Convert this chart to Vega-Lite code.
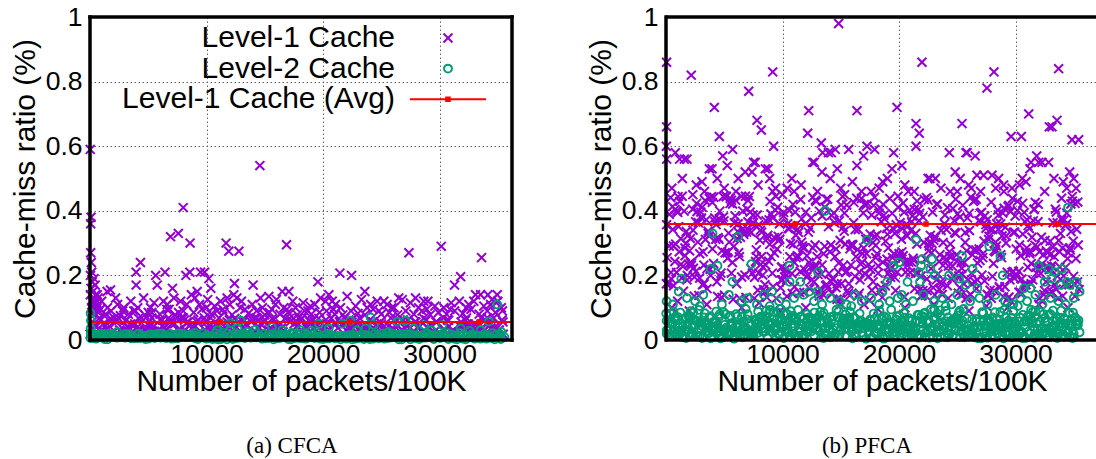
{
"$schema": "https://vega.github.io/schema/vega-lite/v6.json",
"background": "white",
"padding": {"left": 10, "top": 4, "right": 0, "bottom": 0},
"config": {
  "font": "Liberation Sans",
  "view": {"stroke": null},
  "axis": {"labelFont": "Liberation Sans", "labelFontSize": 26.5, "labelColor": "black", "titleFont": "Liberation Sans", "titleFontSize": 30, "titleFontWeight": "normal", "titleColor": "black", "ticks": false, "tickSize": 0, "domain": false, "grid": true, "gridColor": "#666666", "gridDash": [1.5, 2.5], "gridWidth": 1, "gridOpacity": 1, "labelFlush": false}
},
"datasets": {
"a1": [
{"x":10,"y":0.018},{"x":220,"y":0.037},{"x":370,"y":0.018},{"x":590,"y":0.043},{"x":810,"y":0.068},{"x":920,"y":0.025},{"x":1140,"y":0.05},{"x":1310,"y":0.043},{"x":1470,"y":0.031},{"x":1670,"y":0.043},
{"x":1880,"y":0.062},{"x":2070,"y":0.068},{"x":2230,"y":0.056},{"x":2430,"y":0.068},{"x":2550,"y":0.031},{"x":2720,"y":0.025},{"x":2910,"y":0.031},{"x":3140,"y":0.062},{"x":3280,"y":0.037},{"x":3480,"y":0.05},
{"x":3620,"y":0.025},{"x":3840,"y":0.05},{"x":4000,"y":0.037},{"x":4170,"y":0.031},{"x":4350,"y":0.031},{"x":4580,"y":0.062},{"x":4710,"y":0.031},{"x":4880,"y":0.025},{"x":5110,"y":0.056},{"x":5310,"y":0.068},
{"x":5450,"y":0.043},{"x":5580,"y":0.012},{"x":5780,"y":0.025},{"x":6020,"y":0.062},{"x":6200,"y":0.062},{"x":6340,"y":0.037},{"x":6490,"y":0.018},{"x":6750,"y":0.068},{"x":6910,"y":0.056},{"x":7030,"y":0.018},
{"x":7260,"y":0.05},{"x":7470,"y":0.068},{"x":7590,"y":0.031},{"x":7830,"y":0.068},{"x":8010,"y":0.068},{"x":8130,"y":0.031},{"x":8350,"y":0.056},{"x":8510,"y":0.043},{"x":8650,"y":0.018},{"x":8820,"y":0.012},
{"x":9050,"y":0.043},{"x":9260,"y":0.062},{"x":9380,"y":0.025},{"x":9540,"y":0.012},{"x":9810,"y":0.068},{"x":9970,"y":0.056},{"x":10120,"y":0.037},{"x":10350,"y":0.068},{"x":10480,"y":0.037},{"x":10660,"y":0.037},
{"x":10850,"y":0.043},{"x":11070,"y":0.068},{"x":11180,"y":0.025},{"x":11370,"y":0.031},{"x":11520,"y":0.012},{"x":11770,"y":0.056},{"x":11960,"y":0.062},{"x":12070,"y":0.018},{"x":12300,"y":0.05},{"x":12460,"y":0.037},
{"x":12600,"y":0.012},{"x":12840,"y":0.05},{"x":12980,"y":0.025},{"x":13220,"y":0.062},{"x":13380,"y":0.05},{"x":13520,"y":0.025},{"x":13680,"y":0.012},{"x":13940,"y":0.062},{"x":14130,"y":0.068},{"x":14310,"y":0.068},
{"x":14480,"y":0.062},{"x":14640,"y":0.05},{"x":14780,"y":0.025},{"x":15020,"y":0.062},{"x":15120,"y":0.012},{"x":15330,"y":0.031},{"x":15520,"y":0.037},{"x":15740,"y":0.062},{"x":15860,"y":0.025},{"x":16070,"y":0.043},
{"x":16230,"y":0.031},{"x":16420,"y":0.037},{"x":16580,"y":0.025},{"x":16750,"y":0.018},{"x":16930,"y":0.018},{"x":17170,"y":0.056},{"x":17280,"y":0.012},{"x":17520,"y":0.05},{"x":17710,"y":0.056},{"x":17910,"y":0.068},
{"x":18080,"y":0.062},{"x":18200,"y":0.025},{"x":18370,"y":0.018},{"x":18580,"y":0.037},{"x":18800,"y":0.062},{"x":18900,"y":0.012},{"x":19160,"y":0.062},{"x":19320,"y":0.05},{"x":19490,"y":0.043},{"x":19630,"y":0.018},
{"x":19830,"y":0.031},{"x":20000,"y":0.025},{"x":20240,"y":0.062},{"x":20360,"y":0.025},{"x":20550,"y":0.031},{"x":20700,"y":0.012},{"x":20940,"y":0.05},{"x":21120,"y":0.05},{"x":21280,"y":0.037},{"x":21490,"y":0.056},
{"x":21600,"y":0.012},{"x":21870,"y":0.068},{"x":21990,"y":0.031},{"x":22220,"y":0.062},{"x":22360,"y":0.037},{"x":22540,"y":0.037},{"x":22740,"y":0.05},{"x":22860,"y":0.012},{"x":23130,"y":0.068},{"x":23270,"y":0.043},
{"x":23450,"y":0.043},{"x":23580,"y":0.012},{"x":23810,"y":0.043},{"x":24020,"y":0.062},{"x":24140,"y":0.025},{"x":24320,"y":0.025},{"x":24510,"y":0.031},{"x":24670,"y":0.018},{"x":24910,"y":0.056},{"x":25040,"y":0.025},
{"x":25250,"y":0.043},{"x":25410,"y":0.031},{"x":25610,"y":0.043},{"x":25830,"y":0.068},{"x":25960,"y":0.037},{"x":26100,"y":0.012},{"x":26360,"y":0.062},{"x":26470,"y":0.018},{"x":26660,"y":0.025},{"x":26900,"y":0.062},
{"x":27040,"y":0.037},{"x":27260,"y":0.062},{"x":27370,"y":0.018},{"x":27550,"y":0.018},{"x":27730,"y":0.018},{"x":27970,"y":0.056},{"x":28120,"y":0.037},{"x":28310,"y":0.043},{"x":28440,"y":0.012},{"x":28640,"y":0.025},
{"x":28880,"y":0.062},{"x":29020,"y":0.037},{"x":29170,"y":0.018},{"x":29340,"y":0.012},{"x":29540,"y":0.025},{"x":29770,"y":0.056},{"x":29880,"y":0.012},{"x":30070,"y":0.018},{"x":30330,"y":0.068},{"x":30450,"y":0.031},
{"x":30680,"y":0.062},{"x":30830,"y":0.043},{"x":30980,"y":0.025},{"x":31150,"y":0.018},{"x":31330,"y":0.018},{"x":31500,"y":0.012},{"x":31730,"y":0.043},{"x":31910,"y":0.043},{"x":32090,"y":0.043},{"x":32310,"y":0.068},
{"x":32460,"y":0.05},{"x":32620,"y":0.037},{"x":32800,"y":0.037},{"x":33000,"y":0.05},{"x":33140,"y":0.025},{"x":33320,"y":0.025},{"x":33570,"y":0.068},{"x":33700,"y":0.037},{"x":33920,"y":0.062},{"x":34110,"y":0.068},
{"x":34250,"y":0.043},{"x":34420,"y":0.037},{"x":34650,"y":0.068},{"x":34770,"y":0.031},{"x":34920,"y":0.012},{"x":35130,"y":0.031},{"x":35360,"y":0.062},{"x":35470,"y":0.018},
{"x":170,"y":0.056},{"x":470,"y":0.021},{"x":900,"y":0.061},{"x":1200,"y":0.027},{"x":1620,"y":0.061},{"x":1910,"y":0.021},{"x":2340,"y":0.061},{"x":2640,"y":0.027},{"x":3060,"y":0.061},{"x":3380,"y":0.038},
{"x":3750,"y":0.044},{"x":4150,"y":0.067},{"x":4420,"y":0.015},{"x":4820,"y":0.038},{"x":5190,"y":0.044},{"x":5520,"y":0.027},{"x":5890,"y":0.032},{"x":6270,"y":0.044},{"x":6610,"y":0.032},{"x":7000,"y":0.05},
{"x":7300,"y":0.015},{"x":7680,"y":0.027},{"x":8100,"y":0.061},{"x":8450,"y":0.056},{"x":8780,"y":0.038},{"x":9170,"y":0.056},{"x":9470,"y":0.021},{"x":9850,"y":0.032},{"x":10230,"y":0.044},{"x":10560,"y":0.027},
{"x":10960,"y":0.05},{"x":11320,"y":0.05},{"x":11640,"y":0.027},{"x":12020,"y":0.038},{"x":12430,"y":0.067},{"x":12770,"y":0.056},{"x":13130,"y":0.056},{"x":13470,"y":0.044},{"x":13850,"y":0.056},{"x":14160,"y":0.027},
{"x":14540,"y":0.038},{"x":14930,"y":0.056},{"x":15220,"y":0.015},{"x":15670,"y":0.067},{"x":15970,"y":0.032},{"x":16360,"y":0.05},{"x":16750,"y":0.067},{"x":17110,"y":0.067},{"x":17470,"y":0.067},{"x":17790,"y":0.044},
{"x":18190,"y":0.067},{"x":18510,"y":0.044},{"x":18890,"y":0.056},{"x":19220,"y":0.038},{"x":19630,"y":0.067},{"x":19960,"y":0.05},{"x":20320,"y":0.05},{"x":20710,"y":0.067},{"x":21040,"y":0.05},{"x":21410,"y":0.056},
{"x":21760,"y":0.05},{"x":22080,"y":0.027},{"x":22490,"y":0.056},{"x":22850,"y":0.056},{"x":23160,"y":0.027},{"x":23540,"y":0.038},{"x":23860,"y":0.015},{"x":24290,"y":0.056},{"x":24640,"y":0.05},{"x":25000,"y":0.05},
{"x":25330,"y":0.032},{"x":25660,"y":0.015},{"x":26050,"y":0.032},{"x":26430,"y":0.044},{"x":26770,"y":0.032},{"x":27150,"y":0.044},{"x":27500,"y":0.038},{"x":27890,"y":0.056},{"x":28230,"y":0.044},{"x":28630,"y":0.067},
{"x":28940,"y":0.038},{"x":29310,"y":0.044},{"x":29690,"y":0.056},{"x":29990,"y":0.021},{"x":30370,"y":0.032},{"x":30780,"y":0.061},{"x":31080,"y":0.027},{"x":31430,"y":0.021},{"x":31850,"y":0.056},{"x":32220,"y":0.061},
{"x":32550,"y":0.044},{"x":32880,"y":0.027},{"x":33270,"y":0.044},{"x":33590,"y":0.021},{"x":34000,"y":0.05},{"x":34360,"y":0.05},{"x":34700,"y":0.038},{"x":35040,"y":0.027},{"x":35450,"y":0.056},
{"x":20,"y":0.59},{"x":60,"y":0.36},{"x":90,"y":0.38},{"x":60,"y":0.27},{"x":110,"y":0.24},{"x":40,"y":0.2},{"x":150,"y":0.21},{"x":200,"y":0.18},{"x":80,"y":0.16},{"x":250,"y":0.15},
{"x":320,"y":0.13},{"x":180,"y":0.12},{"x":400,"y":0.11},{"x":500,"y":0.14},{"x":600,"y":0.1},{"x":450,"y":0.17},{"x":350,"y":0.19},{"x":700,"y":0.13},{"x":750,"y":0.09},{"x":130,"y":0.1},
{"x":260,"y":0.09},{"x":30,"y":0.14},{"x":550,"y":0.12},
{"x":150,"y":0.085},{"x":300,"y":0.1},{"x":420,"y":0.12},{"x":560,"y":0.09},{"x":700,"y":0.11},{"x":900,"y":0.095},{"x":1350,"y":0.08},{"x":1800,"y":0.09},{"x":2600,"y":0.075},{"x":3300,"y":0.08},
{"x":3900,"y":0.09},{"x":4700,"y":0.078},{"x":5300,"y":0.085},{"x":6000,"y":0.08},{"x":6600,"y":0.095},{"x":7300,"y":0.078},{"x":8000,"y":0.09},{"x":8900,"y":0.085},{"x":9600,"y":0.095},{"x":10400,"y":0.08},
{"x":10900,"y":0.09},{"x":11500,"y":0.085},{"x":12200,"y":0.078},{"x":12900,"y":0.1},{"x":13600,"y":0.082},{"x":14300,"y":0.09},{"x":15000,"y":0.078},{"x":15600,"y":0.095},{"x":16300,"y":0.08},{"x":17000,"y":0.085},
{"x":17800,"y":0.078},{"x":18400,"y":0.09},{"x":19000,"y":0.08},{"x":19700,"y":0.085},{"x":20300,"y":0.09},{"x":21000,"y":0.08},{"x":21700,"y":0.078},{"x":22400,"y":0.09},{"x":23000,"y":0.082},{"x":23600,"y":0.078},
{"x":24300,"y":0.095},{"x":25000,"y":0.08},{"x":25700,"y":0.085},{"x":26400,"y":0.078},{"x":27100,"y":0.09},{"x":27800,"y":0.08},{"x":28500,"y":0.09},{"x":29200,"y":0.078},{"x":29900,"y":0.085},{"x":30600,"y":0.08},
{"x":31300,"y":0.09},{"x":32000,"y":0.082},{"x":32700,"y":0.095},{"x":33400,"y":0.08},{"x":34100,"y":0.09},{"x":34800,"y":0.085},{"x":35300,"y":0.1},
{"x":1000,"y":0.12},{"x":1500,"y":0.1},{"x":2200,"y":0.13},{"x":2800,"y":0.09},{"x":3500,"y":0.12},{"x":4100,"y":0.1},{"x":4600,"y":0.13},{"x":5000,"y":0.085},{"x":5500,"y":0.115},{"x":6300,"y":0.12},
{"x":6800,"y":0.095},{"x":7200,"y":0.13},{"x":7600,"y":0.085},{"x":8300,"y":0.11},{"x":8700,"y":0.14},{"x":9400,"y":0.11},{"x":10100,"y":0.125},{"x":10700,"y":0.105},{"x":11400,"y":0.095},{"x":12000,"y":0.11},
{"x":12600,"y":0.13},{"x":13300,"y":0.095},{"x":14800,"y":0.1},{"x":15400,"y":0.085},{"x":16000,"y":0.125},{"x":16900,"y":0.095},{"x":17400,"y":0.12},{"x":18700,"y":0.09},{"x":19300,"y":0.11},{"x":20900,"y":0.095},
{"x":21500,"y":0.1},{"x":22800,"y":0.105},{"x":23300,"y":0.125},{"x":24800,"y":0.09},{"x":25500,"y":0.11},{"x":26100,"y":0.1},{"x":27500,"y":0.115},{"x":28200,"y":0.1},{"x":28900,"y":0.095},{"x":29600,"y":0.105},
{"x":30900,"y":0.095},{"x":31700,"y":0.12},{"x":32300,"y":0.1},{"x":33800,"y":0.105},{"x":34500,"y":0.125},{"x":35400,"y":0.09},
{"x":14580,"y":0.54},{"x":8000,"y":0.41},{"x":6910,"y":0.32},{"x":7580,"y":0.33},{"x":8590,"y":0.3},{"x":11680,"y":0.3},{"x":11910,"y":0.275},{"x":12780,"y":0.275},{"x":16870,"y":0.295},{"x":27370,"y":0.27},
{"x":30150,"y":0.29},{"x":33610,"y":0.255},{"x":31810,"y":0.196},{"x":31290,"y":0.17},{"x":21450,"y":0.207},{"x":22450,"y":0.2},{"x":19560,"y":0.18},{"x":14000,"y":0.17},{"x":3960,"y":0.21},{"x":4330,"y":0.24},
{"x":3960,"y":0.17},{"x":5640,"y":0.2},{"x":6440,"y":0.21},{"x":5770,"y":0.17},{"x":7080,"y":0.16},{"x":8230,"y":0.2},{"x":8570,"y":0.21},{"x":9490,"y":0.21},{"x":9830,"y":0.21},{"x":10200,"y":0.19},
{"x":9200,"y":0.15},{"x":10370,"y":0.16},{"x":12400,"y":0.175},{"x":16500,"y":0.15},{"x":17070,"y":0.15},{"x":23590,"y":0.15},{"x":22070,"y":0.135},{"x":26500,"y":0.13},{"x":26800,"y":0.125},{"x":27940,"y":0.13},
{"x":28650,"y":0.12},{"x":29000,"y":0.12},{"x":30370,"y":0.1},{"x":32510,"y":0.11},{"x":32940,"y":0.12},{"x":33090,"y":0.14},{"x":33520,"y":0.14},{"x":34150,"y":0.14},{"x":34950,"y":0.14},{"x":34380,"y":0.11},
{"x":20500,"y":0.14},{"x":19790,"y":0.13},{"x":20220,"y":0.12},{"x":20790,"y":0.12},{"x":21070,"y":0.11},{"x":18920,"y":0.105},{"x":17640,"y":0.1},{"x":23790,"y":0.1},{"x":24080,"y":0.11},{"x":24650,"y":0.12},
{"x":25220,"y":0.12},{"x":14630,"y":0.13},{"x":15350,"y":0.135},{"x":15920,"y":0.11},{"x":16640,"y":0.1},{"x":13920,"y":0.11},{"x":11200,"y":0.12},{"x":11770,"y":0.13},{"x":12340,"y":0.14},{"x":620,"y":0.14},
{"x":1470,"y":0.15},{"x":1760,"y":0.155},{"x":2370,"y":0.11},{"x":7770,"y":0.12},{"x":6630,"y":0.11},{"x":5200,"y":0.1},{"x":3760,"y":0.09},{"x":9000,"y":0.13},{"x":10000,"y":0.1},{"x":2900,"y":0.1},
{"x":13000,"y":0.12},{"x":18300,"y":0.115},{"x":25900,"y":0.1},{"x":31000,"y":0.115},{"x":35000,"y":0.12}
],
"a2": [
{"x":40,"y":0.006},{"x":290,"y":0.006},{"x":520,"y":0.004},{"x":830,"y":0.01},{"x":1080,"y":0.01},{"x":1260,"y":0.003},{"x":1500,"y":0.002},{"x":1840,"y":0.011},{"x":2070,"y":0.009},{"x":2300,"y":0.007},
{"x":2560,"y":0.008},{"x":2810,"y":0.008},{"x":3050,"y":0.007},{"x":3340,"y":0.011},{"x":3530,"y":0.005},{"x":3780,"y":0.005},{"x":4040,"y":0.006},{"x":4290,"y":0.006},{"x":4560,"y":0.008},{"x":4760,"y":0.003},
{"x":5020,"y":0.004},{"x":5330,"y":0.01},{"x":5540,"y":0.006},{"x":5820,"y":0.009},{"x":6050,"y":0.007},{"x":6310,"y":0.008},{"x":6540,"y":0.006},{"x":6830,"y":0.01},{"x":7020,"y":0.004},{"x":7280,"y":0.005},
{"x":7530,"y":0.005},{"x":7820,"y":0.009},{"x":8080,"y":0.01},{"x":8310,"y":0.008},{"x":8570,"y":0.009},{"x":8830,"y":0.01},{"x":9030,"y":0.005},{"x":9260,"y":0.003},{"x":9560,"y":0.008},{"x":9800,"y":0.007},
{"x":10020,"y":0.004},{"x":10320,"y":0.009},{"x":10510,"y":0.003},{"x":10770,"y":0.004},{"x":11000,"y":0.002},{"x":11260,"y":0.003},{"x":11590,"y":0.011},{"x":11750,"y":0.002},{"x":12090,"y":0.011},{"x":12260,"y":0.003},
{"x":12540,"y":0.006},{"x":12800,"y":0.007},{"x":13060,"y":0.008},{"x":13290,"y":0.006},{"x":13580,"y":0.01},{"x":13800,"y":0.007},{"x":14060,"y":0.008},{"x":14310,"y":0.008},{"x":14590,"y":0.011},{"x":14770,"y":0.004},
{"x":15030,"y":0.005},{"x":15290,"y":0.006},{"x":15560,"y":0.008},{"x":15750,"y":0.002},{"x":16030,"y":0.005},{"x":16290,"y":0.006},{"x":16580,"y":0.01},{"x":16810,"y":0.008},{"x":17010,"y":0.003},{"x":17250,"y":0.002},
{"x":17540,"y":0.006},{"x":17800,"y":0.007},{"x":18040,"y":0.006},{"x":18280,"y":0.005},{"x":18520,"y":0.004},{"x":18810,"y":0.008},{"x":19060,"y":0.008},{"x":19290,"y":0.006},{"x":19580,"y":0.01},{"x":19770,"y":0.004},
{"x":20010,"y":0.003},{"x":20280,"y":0.005},{"x":20530,"y":0.005},{"x":20840,"y":0.011},{"x":21030,"y":0.005},{"x":21310,"y":0.008},{"x":21500,"y":0.002},{"x":21820,"y":0.009},{"x":22020,"y":0.004},{"x":22310,"y":0.008},
{"x":22500,"y":0.002},{"x":22770,"y":0.004},{"x":23040,"y":0.006},{"x":23340,"y":0.011},{"x":23510,"y":0.003},{"x":23790,"y":0.006},{"x":24010,"y":0.003},{"x":24270,"y":0.004},{"x":24570,"y":0.009},{"x":24780,"y":0.005},
{"x":25070,"y":0.009},{"x":25270,"y":0.004},{"x":25540,"y":0.006},{"x":25800,"y":0.007},{"x":26080,"y":0.01},{"x":26320,"y":0.009},{"x":26500,"y":0.002},{"x":26750,"y":0.002},{"x":27060,"y":0.008},{"x":27310,"y":0.008},
{"x":27500,"y":0.002},{"x":27810,"y":0.008},{"x":28030,"y":0.005},{"x":28260,"y":0.003},{"x":28550,"y":0.007},{"x":28800,"y":0.007},{"x":29080,"y":0.01},{"x":29330,"y":0.01},{"x":29510,"y":0.003},{"x":29820,"y":0.009},
{"x":30040,"y":0.006},{"x":30330,"y":0.01},{"x":30580,"y":0.01},{"x":30760,"y":0.003},{"x":31050,"y":0.007},{"x":31270,"y":0.004},{"x":31500,"y":0.002},{"x":31840,"y":0.011},{"x":32020,"y":0.004},{"x":32250,"y":0.002},
{"x":32590,"y":0.011},{"x":32810,"y":0.008},{"x":33020,"y":0.004},{"x":33330,"y":0.01},{"x":33520,"y":0.004},{"x":33840,"y":0.011},{"x":34020,"y":0.004},{"x":34300,"y":0.007},{"x":34540,"y":0.006},{"x":34750,"y":0.002},
{"x":35090,"y":0.011},{"x":35260,"y":0.003},{"x":35570,"y":0.009},
{"x":240,"y":0.019},{"x":540,"y":0.014},{"x":910,"y":0.016},{"x":1270,"y":0.017},{"x":1650,"y":0.02},{"x":1990,"y":0.019},{"x":2270,"y":0.012},{"x":2620,"y":0.012},{"x":3030,"y":0.018},{"x":3380,"y":0.018},
{"x":3670,"y":0.012},{"x":4080,"y":0.018},{"x":4400,"y":0.015},{"x":4730,"y":0.013},{"x":5120,"y":0.017},{"x":5470,"y":0.017},{"x":5850,"y":0.02},{"x":6200,"y":0.02},{"x":6480,"y":0.013},{"x":6890,"y":0.019},
{"x":7210,"y":0.016},{"x":7600,"y":0.02},{"x":7950,"y":0.02},{"x":8230,"y":0.013},{"x":8620,"y":0.017},{"x":8940,"y":0.014},{"x":9270,"y":0.012},{"x":9710,"y":0.021},{"x":9990,"y":0.014},{"x":10320,"y":0.012},
{"x":10760,"y":0.021},{"x":11080,"y":0.018},{"x":11390,"y":0.014},{"x":11800,"y":0.02},{"x":12090,"y":0.014},{"x":12510,"y":0.021},{"x":12790,"y":0.014},{"x":13190,"y":0.017},{"x":13510,"y":0.016},{"x":13820,"y":0.012},
{"x":14260,"y":0.021},{"x":14530,"y":0.013},{"x":14940,"y":0.019},{"x":15230,"y":0.013},{"x":15620,"y":0.017},{"x":15950,"y":0.015},{"x":16330,"y":0.018},{"x":16620,"y":0.016},{"x":16960,"y":0.015},{"x":17380,"y":0.018},
{"x":17740,"y":0.019},{"x":18100,"y":0.02},{"x":18460,"y":0.021},{"x":18740,"y":0.014},{"x":19140,"y":0.017},{"x":19510,"y":0.021},{"x":19770,"y":0.012},{"x":20150,"y":0.015},{"x":20530,"y":0.018},{"x":20820,"y":0.012},
{"x":21170,"y":0.012},{"x":21530,"y":0.013},{"x":21880,"y":0.013},{"x":22250,"y":0.015},{"x":22600,"y":0.015},{"x":22920,"y":0.012},{"x":23320,"y":0.017},{"x":23620,"y":0.015},{"x":23970,"y":0.012},{"x":24370,"y":0.017},
{"x":24710,"y":0.016},{"x":25100,"y":0.02},{"x":25450,"y":0.02},{"x":25740,"y":0.014},{"x":26070,"y":0.012},{"x":26460,"y":0.016},{"x":26830,"y":0.018},{"x":27180,"y":0.018},{"x":27520,"y":0.017},{"x":27820,"y":0.014},
{"x":28180,"y":0.013},{"x":28550,"y":0.015},{"x":28950,"y":0.02},{"x":29260,"y":0.016},{"x":29580,"y":0.013},{"x":29960,"y":0.016},{"x":30330,"y":0.018},{"x":30710,"y":0.021},{"x":31020,"y":0.017},{"x":31330,"y":0.013},
{"x":31760,"y":0.021},{"x":32060,"y":0.016},{"x":32360,"y":0.013},{"x":32770,"y":0.017},{"x":33070,"y":0.013},{"x":33420,"y":0.013},{"x":33830,"y":0.018},{"x":34120,"y":0.012},{"x":34560,"y":0.021},{"x":34860,"y":0.016},
{"x":35220,"y":0.017},
{"x":50,"y":0.083},{"x":50,"y":0.036},{"x":80,"y":0.06},{"x":60,"y":0.02},{"x":12060,"y":0.052},{"x":12940,"y":0.06},{"x":12650,"y":0.036},{"x":14160,"y":0.031},{"x":15620,"y":0.04},{"x":16490,"y":0.03},
{"x":18070,"y":0.03},{"x":19650,"y":0.05},{"x":20500,"y":0.036},{"x":21640,"y":0.05},{"x":22360,"y":0.06},{"x":24080,"y":0.07},{"x":23650,"y":0.036},{"x":24370,"y":0.046},{"x":26370,"y":0.057},{"x":27080,"y":0.06},
{"x":27800,"y":0.036},{"x":28660,"y":0.046},{"x":30240,"y":0.046},{"x":31810,"y":0.036},{"x":33520,"y":0.031},{"x":34240,"y":0.057},{"x":34950,"y":0.11},{"x":4190,"y":0.02},{"x":7620,"y":0.02},{"x":900,"y":0.02},
{"x":2330,"y":0.025},{"x":10900,"y":0.03},{"x":11500,"y":0.045},{"x":13500,"y":0.025},{"x":17300,"y":0.022},{"x":19000,"y":0.028},{"x":22900,"y":0.03},{"x":25600,"y":0.025},{"x":29300,"y":0.03},{"x":32600,"y":0.028},
{"x":6000,"y":0.018},{"x":9000,"y":0.022},{"x":3000,"y":0.017},{"x":26000,"y":0.02},{"x":35300,"y":0.025}
],
"b1": [
{"x":35,"y":0.174},{"x":95,"y":0.255},{"x":220,"y":0.177},{"x":280,"y":0.291},{"x":400,"y":0.441},{"x":455,"y":0.189},{"x":580,"y":0.342},{"x":640,"y":0.291},{"x":760,"y":0.243},{"x":830,"y":0.297},
{"x":925,"y":0.399},{"x":1035,"y":0.444},{"x":1080,"y":0.351},{"x":1190,"y":0.429},{"x":1285,"y":0.234},{"x":1360,"y":0.192},{"x":1455,"y":0.228},{"x":1555,"y":0.399},{"x":1635,"y":0.261},{"x":1740,"y":0.336},
{"x":1800,"y":0.186},{"x":1900,"y":0.324},{"x":2020,"y":0.276},{"x":2105,"y":0.24},{"x":2180,"y":0.231},{"x":2285,"y":0.405},{"x":2345,"y":0.222},{"x":2445,"y":0.195},{"x":2545,"y":0.366},{"x":2620,"y":0.423},
{"x":2730,"y":0.303},{"x":2820,"y":0.138},{"x":2890,"y":0.192},{"x":2990,"y":0.396},{"x":3105,"y":0.411},{"x":3185,"y":0.273},{"x":3275,"y":0.174},{"x":3355,"y":0.432},{"x":3455,"y":0.372},{"x":3520,"y":0.159},
{"x":3620,"y":0.33},{"x":3725,"y":0.438},{"x":3780,"y":0.219},{"x":3915,"y":0.444},{"x":3975,"y":0.426},{"x":4080,"y":0.237},{"x":4185,"y":0.378},{"x":4275,"y":0.312},{"x":4365,"y":0.18},{"x":4435,"y":0.135},
{"x":4545,"y":0.312},{"x":4615,"y":0.399},{"x":4715,"y":0.207},{"x":4790,"y":0.132},{"x":4905,"y":0.444},{"x":4980,"y":0.369},{"x":5070,"y":0.27},{"x":5175,"y":0.444},{"x":5250,"y":0.27},{"x":5345,"y":0.273},
{"x":5430,"y":0.303},{"x":5500,"y":0.423},{"x":5615,"y":0.207},{"x":5705,"y":0.24},{"x":5770,"y":0.126},{"x":5870,"y":0.363},{"x":5940,"y":0.384},{"x":6065,"y":0.174},{"x":6150,"y":0.336},{"x":6240,"y":0.27},
{"x":6315,"y":0.129},{"x":6390,"y":0.318},{"x":6495,"y":0.195},{"x":6595,"y":0.399},{"x":6675,"y":0.327},{"x":6775,"y":0.201},{"x":6860,"y":0.132},{"x":6965,"y":0.405},{"x":7045,"y":0.432},{"x":7155,"y":0.444},
{"x":7220,"y":0.396},{"x":7315,"y":0.333},{"x":7415,"y":0.207},{"x":7475,"y":0.387},{"x":7575,"y":0.129},{"x":7690,"y":0.243},{"x":7750,"y":0.258},{"x":7835,"y":0.387},{"x":7955,"y":0.207},{"x":8050,"y":0.309},
{"x":8125,"y":0.234},{"x":8200,"y":0.258},{"x":8305,"y":0.201},{"x":8375,"y":0.156},{"x":8490,"y":0.171},{"x":8580,"y":0.369},{"x":8660,"y":0.132},{"x":8740,"y":0.324},{"x":8855,"y":0.372},{"x":8930,"y":0.429},
{"x":9010,"y":0.39},{"x":9125,"y":0.207},{"x":9200,"y":0.165},{"x":9300,"y":0.27},{"x":9390,"y":0.402},{"x":9465,"y":0.129},{"x":9585,"y":0.411},{"x":9635,"y":0.321},{"x":9765,"y":0.312},{"x":9825,"y":0.162},
{"x":9910,"y":0.225},{"x":9990,"y":0.186},{"x":10080,"y":0.384},{"x":10185,"y":0.195},{"x":10260,"y":0.219},{"x":10375,"y":0.135},{"x":10485,"y":0.345},{"x":10575,"y":0.345},{"x":10630,"y":0.258},{"x":10715,"y":0.354},
{"x":10840,"y":0.144},{"x":10895,"y":0.42},{"x":11015,"y":0.24},{"x":11090,"y":0.396},{"x":11165,"y":0.255},{"x":11265,"y":0.261},{"x":11365,"y":0.333},{"x":11475,"y":0.147},{"x":11550,"y":0.435},{"x":11640,"y":0.303},
{"x":11710,"y":0.291},{"x":11835,"y":0.147},{"x":11880,"y":0.285},{"x":11990,"y":0.396},{"x":12075,"y":0.195},{"x":12175,"y":0.201},{"x":12275,"y":0.24},{"x":12340,"y":0.159},{"x":12465,"y":0.378},{"x":12510,"y":0.186},
{"x":12600,"y":0.285},{"x":12705,"y":0.228},{"x":12795,"y":0.294},{"x":12890,"y":0.429},{"x":12970,"y":0.258},{"x":13095,"y":0.147},{"x":13165,"y":0.399},{"x":13240,"y":0.159},{"x":13350,"y":0.204},{"x":13410,"y":0.384},
{"x":13525,"y":0.267},{"x":13635,"y":0.411},{"x":13705,"y":0.168},{"x":13800,"y":0.171},{"x":13875,"y":0.162},{"x":13950,"y":0.351},{"x":14075,"y":0.273},{"x":14145,"y":0.294},{"x":14260,"y":0.144},{"x":14315,"y":0.189},
{"x":14415,"y":0.393},{"x":14500,"y":0.258},{"x":14595,"y":0.162},{"x":14680,"y":0.126},{"x":14800,"y":0.21},{"x":14880,"y":0.369},{"x":14950,"y":0.126},{"x":15065,"y":0.174},{"x":15165,"y":0.444},{"x":15230,"y":0.231},
{"x":15315,"y":0.393},{"x":15410,"y":0.297},{"x":15525,"y":0.213},{"x":15570,"y":0.153},{"x":15695,"y":0.174},{"x":15780,"y":0.138},{"x":15855,"y":0.294},{"x":15940,"y":0.291},{"x":16035,"y":0.294},{"x":16125,"y":0.426},
{"x":16240,"y":0.342},{"x":16300,"y":0.258},{"x":16425,"y":0.279},{"x":16510,"y":0.342},{"x":16600,"y":0.21},{"x":16650,"y":0.186},{"x":16775,"y":0.438},{"x":16855,"y":0.267},{"x":16935,"y":0.393},{"x":17015,"y":0.42},
{"x":17145,"y":0.312},{"x":17215,"y":0.267},{"x":17290,"y":0.423},{"x":17395,"y":0.234},{"x":17465,"y":0.123},{"x":17550,"y":0.219},{"x":17645,"y":0.387},{"x":17775,"y":0.18},{"x":17820,"y":0.417},{"x":17915,"y":0.321},
{"x":18005,"y":0.255},{"x":18115,"y":0.267},{"x":18215,"y":0.207},{"x":18285,"y":0.393},{"x":18400,"y":0.408},{"x":18465,"y":0.162},{"x":18560,"y":0.132},{"x":18635,"y":0.42},{"x":18760,"y":0.375},{"x":18845,"y":0.306},
{"x":18945,"y":0.345},{"x":19005,"y":0.327},{"x":19080,"y":0.285},{"x":19205,"y":0.438},{"x":19260,"y":0.219},{"x":19360,"y":0.225},{"x":19445,"y":0.255},{"x":19555,"y":0.267},{"x":19640,"y":0.33},{"x":19710,"y":0.153},
{"x":19840,"y":0.21},{"x":19935,"y":0.411},{"x":19985,"y":0.255},{"x":20090,"y":0.363},{"x":20205,"y":0.312},{"x":20295,"y":0.345},{"x":20355,"y":0.261},{"x":20450,"y":0.396},{"x":20560,"y":0.21},{"x":20650,"y":0.243},
{"x":20720,"y":0.231},{"x":20795,"y":0.354},{"x":20910,"y":0.402},{"x":21005,"y":0.339},{"x":21085,"y":0.366},{"x":21150,"y":0.384},{"x":21285,"y":0.246},{"x":21340,"y":0.159},{"x":21440,"y":0.33},{"x":21530,"y":0.297},
{"x":21635,"y":0.207},{"x":21720,"y":0.369},{"x":21785,"y":0.156},{"x":21890,"y":0.198},{"x":21990,"y":0.138},{"x":22050,"y":0.153},{"x":22170,"y":0.435},{"x":22260,"y":0.138},{"x":22360,"y":0.441},{"x":22410,"y":0.153},
{"x":22540,"y":0.276},{"x":22600,"y":0.291},{"x":22690,"y":0.324},{"x":22800,"y":0.27},{"x":22880,"y":0.396},{"x":22990,"y":0.309},{"x":23040,"y":0.318},{"x":23130,"y":0.318},{"x":23225,"y":0.42},{"x":23340,"y":0.204},
{"x":23440,"y":0.243},{"x":23510,"y":0.264},{"x":23615,"y":0.339},{"x":23705,"y":0.141},{"x":23780,"y":0.231},{"x":23855,"y":0.255},{"x":23945,"y":0.387},{"x":24070,"y":0.342},{"x":24145,"y":0.168},{"x":24225,"y":0.129},
{"x":24335,"y":0.273},{"x":24410,"y":0.297},{"x":24490,"y":0.258},{"x":24585,"y":0.228},{"x":24680,"y":0.198},{"x":24775,"y":0.333},{"x":24860,"y":0.33},{"x":24950,"y":0.264},{"x":25030,"y":0.39},{"x":25130,"y":0.198},
{"x":25215,"y":0.162},{"x":25325,"y":0.24},{"x":25385,"y":0.222},{"x":25470,"y":0.417},{"x":25595,"y":0.24},{"x":25675,"y":0.333},{"x":25755,"y":0.129},{"x":25875,"y":0.378},{"x":25920,"y":0.186},{"x":26045,"y":0.339},
{"x":26135,"y":0.141},{"x":26225,"y":0.207},{"x":26300,"y":0.264},{"x":26390,"y":0.429},{"x":26505,"y":0.18},{"x":26595,"y":0.279},{"x":26650,"y":0.159},{"x":26730,"y":0.186},{"x":26850,"y":0.369},{"x":26955,"y":0.246},
{"x":27025,"y":0.366},{"x":27115,"y":0.201},{"x":27185,"y":0.255},{"x":27305,"y":0.306},{"x":27360,"y":0.384},{"x":27460,"y":0.357},{"x":27575,"y":0.141},{"x":27660,"y":0.138},{"x":27725,"y":0.321},{"x":27850,"y":0.342},
{"x":27915,"y":0.129},{"x":28030,"y":0.342},{"x":28110,"y":0.237},{"x":28170,"y":0.153},{"x":28290,"y":0.303},{"x":28360,"y":0.291},{"x":28470,"y":0.402},{"x":28535,"y":0.387},{"x":28635,"y":0.162},{"x":28725,"y":0.36},
{"x":28805,"y":0.255},{"x":28905,"y":0.393},{"x":29020,"y":0.408},{"x":29090,"y":0.165},{"x":29185,"y":0.3},{"x":29290,"y":0.21},{"x":29355,"y":0.129},{"x":29430,"y":0.417},{"x":29520,"y":0.186},{"x":29610,"y":0.12},
{"x":29735,"y":0.438},{"x":29815,"y":0.333},{"x":29890,"y":0.192},{"x":29970,"y":0.384},{"x":30080,"y":0.198},{"x":30170,"y":0.429},{"x":30285,"y":0.213},{"x":30345,"y":0.294},{"x":30435,"y":0.261},{"x":30550,"y":0.144},
{"x":30610,"y":0.423},{"x":30720,"y":0.171},{"x":30805,"y":0.366},{"x":30900,"y":0.171},{"x":30960,"y":0.285},{"x":31060,"y":0.225},{"x":31185,"y":0.345},{"x":31265,"y":0.273},{"x":31350,"y":0.237},{"x":31410,"y":0.318},
{"x":31530,"y":0.369},{"x":31625,"y":0.405},{"x":31695,"y":0.426},{"x":31805,"y":0.207},{"x":31865,"y":0.288},{"x":31955,"y":0.42},{"x":32055,"y":0.129},{"x":32140,"y":0.225},{"x":32220,"y":0.318},{"x":32310,"y":0.12},
{"x":32435,"y":0.141},{"x":32490,"y":0.153},{"x":32625,"y":0.18},{"x":32685,"y":0.228},{"x":32770,"y":0.225},{"x":32890,"y":0.144},{"x":32975,"y":0.306},{"x":33030,"y":0.219},{"x":33165,"y":0.147},{"x":33215,"y":0.288},
{"x":33310,"y":0.258},{"x":33425,"y":0.405},{"x":33500,"y":0.396},{"x":33590,"y":0.198},{"x":33675,"y":0.129},{"x":33785,"y":0.273},{"x":33860,"y":0.33},{"x":33965,"y":0.372},{"x":34020,"y":0.285},{"x":34130,"y":0.198},
{"x":34235,"y":0.174},{"x":34300,"y":0.225},{"x":34395,"y":0.393},{"x":34470,"y":0.252},{"x":34590,"y":0.171},{"x":34695,"y":0.279},{"x":34770,"y":0.336},{"x":34875,"y":0.444},{"x":34955,"y":0.306},{"x":35045,"y":0.174},
{"x":35110,"y":0.423},{"x":35190,"y":0.252},{"x":35325,"y":0.18},{"x":35385,"y":0.294},{"x":35465,"y":0.156},
{"x":55,"y":0.357},{"x":188,"y":0.174},{"x":291,"y":0.389},{"x":429,"y":0.209},{"x":567,"y":0.413},{"x":650,"y":0.168},{"x":788,"y":0.404},{"x":901,"y":0.209},{"x":1009,"y":0.395},{"x":1137,"y":0.273},
{"x":1270,"y":0.314},{"x":1393,"y":0.445},{"x":1501,"y":0.151},{"x":1629,"y":0.285},{"x":1717,"y":0.299},{"x":1830,"y":0.2},{"x":1953,"y":0.235},{"x":2096,"y":0.314},{"x":2194,"y":0.238},{"x":2322,"y":0.34},
{"x":2420,"y":0.136},{"x":2558,"y":0.212},{"x":2666,"y":0.398},{"x":2779,"y":0.363},{"x":2897,"y":0.267},{"x":3040,"y":0.378},{"x":3133,"y":0.171},{"x":3246,"y":0.232},{"x":3389,"y":0.311},{"x":3517,"y":0.221},
{"x":3615,"y":0.337},{"x":3708,"y":0.322},{"x":3836,"y":0.2},{"x":3984,"y":0.282},{"x":4102,"y":0.442},{"x":4200,"y":0.366},{"x":4303,"y":0.357},{"x":4461,"y":0.317},{"x":4569,"y":0.375},{"x":4657,"y":0.197},
{"x":4800,"y":0.276},{"x":4933,"y":0.381},{"x":5021,"y":0.139},{"x":5169,"y":0.445},{"x":5287,"y":0.253},{"x":5375,"y":0.331},{"x":5513,"y":0.439},{"x":5621,"y":0.433},{"x":5719,"y":0.421},{"x":5832,"y":0.29},
{"x":5975,"y":0.433},{"x":6108,"y":0.314},{"x":6196,"y":0.36},{"x":6304,"y":0.258},{"x":6467,"y":0.445},{"x":6575,"y":0.343},{"x":6678,"y":0.334},{"x":6821,"y":0.445},{"x":6914,"y":0.334},{"x":7032,"y":0.366},
{"x":7155,"y":0.337},{"x":7293,"y":0.221},{"x":7376,"y":0.36},{"x":7499,"y":0.363},{"x":7602,"y":0.194},{"x":7755,"y":0.279},{"x":7878,"y":0.154},{"x":7961,"y":0.357},{"x":8104,"y":0.34},{"x":8212,"y":0.334},
{"x":8310,"y":0.226},{"x":8458,"y":0.148},{"x":8556,"y":0.232},{"x":8704,"y":0.314},{"x":8812,"y":0.244},{"x":8910,"y":0.296},{"x":9018,"y":0.258},{"x":9176,"y":0.378},{"x":9299,"y":0.317},{"x":9417,"y":0.445},
{"x":9530,"y":0.282},{"x":9638,"y":0.308},{"x":9736,"y":0.36},{"x":9884,"y":0.186},{"x":9962,"y":0.226},{"x":10095,"y":0.395},{"x":10218,"y":0.206},{"x":10356,"y":0.186},{"x":10444,"y":0.36},{"x":10577,"y":0.401},
{"x":10685,"y":0.299},{"x":10808,"y":0.206},{"x":10916,"y":0.296},{"x":11029,"y":0.165},{"x":11147,"y":0.325},{"x":11295,"y":0.343},{"x":11378,"y":0.258},{"x":11526,"y":0.212},{"x":11649,"y":0.375},{"x":11777,"y":0.285},
{"x":11890,"y":0.218},{"x":11978,"y":0.36},{"x":12091,"y":0.261},{"x":12224,"y":0.334},{"x":12362,"y":0.346},{"x":12440,"y":0.226},{"x":12598,"y":0.442},{"x":12706,"y":0.18},{"x":12819,"y":0.433},{"x":12917,"y":0.229},
{"x":13045,"y":0.203},{"x":13158,"y":0.136},{"x":13306,"y":0.154},{"x":13394,"y":0.232},{"x":13517,"y":0.139},{"x":13620,"y":0.29},{"x":13768,"y":0.436},{"x":13886,"y":0.436},{"x":13994,"y":0.206},{"x":14127,"y":0.183},
{"x":14210,"y":0.386},{"x":14373,"y":0.189},{"x":14461,"y":0.363},{"x":14604,"y":0.282},{"x":14702,"y":0.174},{"x":14820,"y":0.238},{"x":14948,"y":0.308},{"x":15036,"y":0.418},{"x":15199,"y":0.349},{"x":15297,"y":0.337},
{"x":15415,"y":0.209},{"x":15508,"y":0.418},{"x":15651,"y":0.145},{"x":15784,"y":0.282},{"x":15872,"y":0.232},{"x":15990,"y":0.296},{"x":16113,"y":0.363},{"x":16221,"y":0.197},{"x":16369,"y":0.439},{"x":16462,"y":0.136},
{"x":16595,"y":0.145},{"x":16703,"y":0.235},{"x":16831,"y":0.241},{"x":16969,"y":0.285},{"x":17062,"y":0.206},{"x":17160,"y":0.418},{"x":17318,"y":0.314},{"x":17401,"y":0.197},{"x":17524,"y":0.328},{"x":17672,"y":0.154},
{"x":17770,"y":0.302},{"x":17908,"y":0.442},{"x":17991,"y":0.293},{"x":18109,"y":0.325},{"x":18227,"y":0.229},{"x":18375,"y":0.151},{"x":18478,"y":0.366},{"x":18601,"y":0.241},{"x":18694,"y":0.386},{"x":18822,"y":0.168},
{"x":18970,"y":0.25},{"x":19068,"y":0.206},{"x":19171,"y":0.229},{"x":19284,"y":0.194},{"x":19412,"y":0.392},{"x":19555,"y":0.343},{"x":19638,"y":0.194},{"x":19761,"y":0.357},{"x":19919,"y":0.445},{"x":20007,"y":0.267},
{"x":20150,"y":0.25},{"x":20253,"y":0.273},{"x":20356,"y":0.424},{"x":20469,"y":0.133},{"x":20587,"y":0.357},{"x":20700,"y":0.322},{"x":20843,"y":0.241},{"x":20961,"y":0.209},{"x":21079,"y":0.241},{"x":21217,"y":0.253},
{"x":21320,"y":0.404},{"x":21428,"y":0.206},{"x":21546,"y":0.43},{"x":21674,"y":0.404},{"x":21772,"y":0.392},{"x":21890,"y":0.136},{"x":22043,"y":0.381},{"x":22136,"y":0.302},{"x":22274,"y":0.25},{"x":22397,"y":0.189},
{"x":22495,"y":0.433},{"x":22608,"y":0.302},{"x":22751,"y":0.221},{"x":22839,"y":0.299},{"x":22942,"y":0.162},{"x":23075,"y":0.139},{"x":23218,"y":0.186},{"x":23301,"y":0.421},{"x":23459,"y":0.157},{"x":23562,"y":0.18},
{"x":23670,"y":0.174},{"x":23788,"y":0.302},{"x":23896,"y":0.36},{"x":24044,"y":0.25},{"x":24162,"y":0.41},{"x":24245,"y":0.229},{"x":24358,"y":0.258},{"x":24521,"y":0.189},{"x":24629,"y":0.407},{"x":24737,"y":0.369},
{"x":24860,"y":0.436},{"x":24978,"y":0.244},{"x":25091,"y":0.145},{"x":25229,"y":0.381},{"x":25317,"y":0.139},{"x":25435,"y":0.203},{"x":25558,"y":0.174},{"x":25676,"y":0.302},{"x":25804,"y":0.276},{"x":25897,"y":0.133},
{"x":26020,"y":0.392},{"x":26168,"y":0.442},{"x":26266,"y":0.174},{"x":26399,"y":0.279},{"x":26507,"y":0.433},{"x":26630,"y":0.436},{"x":26738,"y":0.238},{"x":26876,"y":0.282},{"x":26964,"y":0.392},{"x":27087,"y":0.395},
{"x":27205,"y":0.267},{"x":27343,"y":0.183},{"x":27466,"y":0.346},{"x":27574,"y":0.372},{"x":27697,"y":0.311},{"x":27820,"y":0.154},{"x":27913,"y":0.427},{"x":28021,"y":0.197},{"x":28164,"y":0.276},{"x":28277,"y":0.273},
{"x":28380,"y":0.36},{"x":28523,"y":0.343},{"x":28611,"y":0.165},{"x":28734,"y":0.264},{"x":28842,"y":0.322},{"x":28965,"y":0.133},{"x":29123,"y":0.349},{"x":29196,"y":0.322},{"x":29359,"y":0.413},{"x":29437,"y":0.133},
{"x":29570,"y":0.398},{"x":29693,"y":0.209},{"x":29816,"y":0.212},{"x":29924,"y":0.334},{"x":30062,"y":0.282},{"x":30165,"y":0.401},{"x":30288,"y":0.148},{"x":30406,"y":0.148},{"x":30539,"y":0.189},{"x":30622,"y":0.328},
{"x":30745,"y":0.395},{"x":30868,"y":0.27},{"x":30996,"y":0.372},{"x":31084,"y":0.354},{"x":31217,"y":0.267},{"x":31340,"y":0.174},{"x":31478,"y":0.186},{"x":31586,"y":0.404},{"x":31679,"y":0.293},{"x":31792,"y":0.226},
{"x":31930,"y":0.366},{"x":32053,"y":0.273},{"x":32166,"y":0.206},{"x":32279,"y":0.235},{"x":32392,"y":0.264},{"x":32530,"y":0.308},{"x":32648,"y":0.276},{"x":32756,"y":0.27},{"x":32894,"y":0.218},{"x":32982,"y":0.264},
{"x":33095,"y":0.229},{"x":33223,"y":0.363},{"x":33341,"y":0.171},{"x":33489,"y":0.157},{"x":33577,"y":0.363},{"x":33710,"y":0.308},{"x":33798,"y":0.226},{"x":33951,"y":0.439},{"x":34044,"y":0.136},{"x":34182,"y":0.372},
{"x":34270,"y":0.354},{"x":34398,"y":0.36},{"x":34526,"y":0.27},{"x":34669,"y":0.285},{"x":34747,"y":0.421},{"x":34880,"y":0.43},{"x":34983,"y":0.197},{"x":35106,"y":0.136},{"x":35249,"y":0.343},{"x":35347,"y":0.427},
{"x":14820,"y":0.98},{"x":50,"y":0.86},{"x":21970,"y":0.86},{"x":33700,"y":0.84},{"x":2170,"y":0.82},{"x":9160,"y":0.83},{"x":28150,"y":0.83},{"x":27550,"y":0.78},{"x":7100,"y":0.77},{"x":4150,"y":0.72},
{"x":12250,"y":0.71},{"x":16390,"y":0.71},{"x":19830,"y":0.72},{"x":31130,"y":0.7},{"x":21460,"y":0.67},{"x":25410,"y":0.67},{"x":32900,"y":0.66},{"x":33130,"y":0.66},{"x":33560,"y":0.68},{"x":50,"y":0.66},
{"x":7810,"y":0.68},{"x":8180,"y":0.65},{"x":12160,"y":0.64},{"x":21740,"y":0.64},{"x":4580,"y":0.63},{"x":30500,"y":0.63},{"x":9240,"y":0.6},{"x":21460,"y":0.6},{"x":13330,"y":0.61},{"x":34850,"y":0.62},
{"x":35420,"y":0.62},{"x":16390,"y":0.54},{"x":15680,"y":0.59},{"x":14190,"y":0.58},{"x":14530,"y":0.59},{"x":17250,"y":0.6},{"x":16960,"y":0.57},{"x":17910,"y":0.59},{"x":16780,"y":0.46},{"x":24320,"y":0.58},
{"x":25750,"y":0.58},{"x":26540,"y":0.57},{"x":30350,"y":0.48},{"x":30580,"y":0.5},{"x":32270,"y":0.55},{"x":31990,"y":0.55},{"x":32840,"y":0.55},{"x":34650,"y":0.52},{"x":31330,"y":0.55},{"x":31240,"y":0.53},
{"x":31820,"y":0.57},{"x":29620,"y":0.63},{"x":7380,"y":0.52},{"x":7520,"y":0.55},{"x":7670,"y":0.55},{"x":5260,"y":0.54},{"x":4870,"y":0.57},{"x":3090,"y":0.49},{"x":3720,"y":0.53},{"x":3950,"y":0.53},
{"x":1170,"y":0.56},{"x":1570,"y":0.56},{"x":1800,"y":0.56},{"x":800,"y":0.58},{"x":60,"y":0.56},{"x":30,"y":0.6},{"x":5720,"y":0.59},{"x":8530,"y":0.53},{"x":8760,"y":0.53},{"x":9160,"y":0.46},
{"x":9400,"y":0.47},{"x":12730,"y":0.55},{"x":12590,"y":0.55},{"x":13390,"y":0.52},{"x":13450,"y":0.58},{"x":13940,"y":0.58},{"x":14700,"y":0.53},{"x":15330,"y":0.45},{"x":19540,"y":0.58},{"x":19400,"y":0.53},
{"x":23120,"y":0.5},{"x":24830,"y":0.52},{"x":25260,"y":0.5},{"x":25840,"y":0.58},{"x":25980,"y":0.48},{"x":26690,"y":0.51},{"x":27260,"y":0.51},{"x":27980,"y":0.51},{"x":28550,"y":0.5},{"x":28980,"y":0.48},
{"x":29700,"y":0.47},{"x":22500,"y":0.5},{"x":22650,"y":0.5},{"x":20250,"y":0.54},{"x":18600,"y":0.49},{"x":10400,"y":0.47},{"x":11000,"y":0.46},{"x":6200,"y":0.5},{"x":2600,"y":0.48},{"x":34100,"y":0.49},
{"x":35200,"y":0.47},{"x":25000,"y":0.46},{"x":20800,"y":0.46},
{"x":500,"y":0.47},{"x":1400,"y":0.5},{"x":2300,"y":0.45},{"x":3300,"y":0.46},{"x":4400,"y":0.5},{"x":5000,"y":0.47},{"x":6000,"y":0.46},{"x":6800,"y":0.52},{"x":7900,"y":0.48},{"x":8900,"y":0.5},
{"x":10000,"y":0.45},{"x":10800,"y":0.5},{"x":11600,"y":0.48},{"x":13000,"y":0.46},{"x":14100,"y":0.5},{"x":15000,"y":0.47},{"x":16000,"y":0.49},{"x":17600,"y":0.46},{"x":18300,"y":0.47},{"x":19000,"y":0.5},
{"x":20500,"y":0.48},{"x":21300,"y":0.46},{"x":23600,"y":0.47},{"x":24400,"y":0.46},{"x":26200,"y":0.47},{"x":27000,"y":0.46},{"x":28300,"y":0.47},{"x":29000,"y":0.46},{"x":30900,"y":0.49},{"x":32500,"y":0.46},
{"x":33300,"y":0.5},{"x":34400,"y":0.47},{"x":35000,"y":0.5},
{"x":500,"y":0.1},{"x":2000,"y":0.09},{"x":3500,"y":0.11},{"x":6500,"y":0.1},{"x":9800,"y":0.09},{"x":12000,"y":0.1},{"x":15000,"y":0.11},{"x":18200,"y":0.095},{"x":20500,"y":0.1},{"x":23000,"y":0.11},
{"x":26000,"y":0.09},{"x":29300,"y":0.1},{"x":32000,"y":0.11},{"x":34500,"y":0.1},{"x":1000,"y":0.12},{"x":8000,"y":0.115},{"x":17000,"y":0.11},{"x":27500,"y":0.105}
],
"b2": [
{"x":20,"y":0.082},{"x":135,"y":0.031},{"x":200,"y":0.015},{"x":345,"y":0.051},{"x":415,"y":0.081},{"x":530,"y":0.012},{"x":645,"y":0.087},{"x":745,"y":0.069},{"x":845,"y":0.06},{"x":925,"y":0.02},
{"x":1045,"y":0.042},{"x":1125,"y":0.029},{"x":1235,"y":0.085},{"x":1320,"y":0.028},{"x":1445,"y":0.042},{"x":1530,"y":0.012},{"x":1630,"y":0.066},{"x":1745,"y":0.069},{"x":1830,"y":0.048},{"x":1935,"y":0.076},
{"x":2030,"y":0.012},{"x":2110,"y":0.089},{"x":2235,"y":0.04},{"x":2335,"y":0.085},{"x":2410,"y":0.044},{"x":2520,"y":0.046},{"x":2600,"y":0.06},{"x":2735,"y":0.013},{"x":2830,"y":0.093},{"x":2930,"y":0.057},
{"x":3015,"y":0.054},{"x":3100,"y":0.006},{"x":3215,"y":0.054},{"x":3325,"y":0.083},{"x":3415,"y":0.027},{"x":3525,"y":0.029},{"x":3620,"y":0.037},{"x":3735,"y":0.022},{"x":3825,"y":0.074},{"x":3945,"y":0.033},
{"x":4020,"y":0.055},{"x":4125,"y":0.038},{"x":4235,"y":0.058},{"x":4305,"y":0.088},{"x":4415,"y":0.045},{"x":4540,"y":0.014},{"x":4610,"y":0.08},{"x":4705,"y":0.016},{"x":4835,"y":0.031},{"x":4940,"y":0.086},
{"x":5025,"y":0.047},{"x":5110,"y":0.08},{"x":5225,"y":0.02},{"x":5305,"y":0.016},{"x":5430,"y":0.021},{"x":5530,"y":0.075},{"x":5620,"y":0.046},{"x":5710,"y":0.053},{"x":5835,"y":0.013},{"x":5920,"y":0.028},
{"x":6010,"y":0.08},{"x":6135,"y":0.049},{"x":6220,"y":0.019},{"x":6330,"y":0.012},{"x":6430,"y":0.03},{"x":6515,"y":0.072},{"x":6645,"y":0.015},{"x":6705,"y":0.016},{"x":6845,"y":0.096},{"x":6915,"y":0.036},
{"x":7010,"y":0.08},{"x":7100,"y":0.051},{"x":7200,"y":0.024},{"x":7315,"y":0.018},{"x":7400,"y":0.015},{"x":7525,"y":0.011},{"x":7645,"y":0.06},{"x":7745,"y":0.06},{"x":7810,"y":0.053},{"x":7905,"y":0.088},
{"x":8040,"y":0.068},{"x":8105,"y":0.043},{"x":8235,"y":0.049},{"x":8320,"y":0.064},{"x":8405,"y":0.025},{"x":8515,"y":0.027},{"x":8625,"y":0.092},{"x":8745,"y":0.051},{"x":8830,"y":0.084},{"x":8930,"y":0.093},
{"x":9010,"y":0.053},{"x":9145,"y":0.051},{"x":9200,"y":0.087},{"x":9320,"y":0.037},{"x":9415,"y":0.009},{"x":9525,"y":0.038},{"x":9635,"y":0.085},{"x":9710,"y":0.017},{"x":9845,"y":0.096},{"x":9900,"y":0.06},
{"x":10000,"y":0.042},{"x":10115,"y":0.045},{"x":10215,"y":0.027},{"x":10320,"y":0.082},{"x":10410,"y":0.08},{"x":10545,"y":0.024},{"x":10625,"y":0.011},{"x":10710,"y":0.089},{"x":10830,"y":0.075},{"x":10900,"y":0.051},
{"x":11025,"y":0.065},{"x":11145,"y":0.069},{"x":11225,"y":0.056},{"x":11330,"y":0.093},{"x":11415,"y":0.036},{"x":11500,"y":0.033},{"x":11635,"y":0.049},{"x":11715,"y":0.045},{"x":11840,"y":0.068},{"x":11905,"y":0.016},
{"x":12015,"y":0.027},{"x":12110,"y":0.08},{"x":12215,"y":0.045},{"x":12310,"y":0.071},{"x":12440,"y":0.059},{"x":12530,"y":0.066},{"x":12610,"y":0.044},{"x":12735,"y":0.085},{"x":12845,"y":0.033},{"x":12920,"y":0.037},
{"x":13015,"y":0.036},{"x":13120,"y":0.073},{"x":13245,"y":0.087},{"x":13300,"y":0.06},{"x":13435,"y":0.076},{"x":13530,"y":0.084},{"x":13615,"y":0.036},{"x":13710,"y":0.017},{"x":13815,"y":0.063},{"x":13915,"y":0.054},
{"x":14040,"y":0.032},{"x":14110,"y":0.071},{"x":14245,"y":0.024},{"x":14340,"y":0.032},{"x":14440,"y":0.014},{"x":14500,"y":0.015},{"x":14635,"y":0.094},{"x":14725,"y":0.011},{"x":14815,"y":0.09},{"x":14905,"y":0.016},
{"x":15045,"y":0.051},{"x":15125,"y":0.056},{"x":15210,"y":0.062},{"x":15325,"y":0.047},{"x":15405,"y":0.079},{"x":15500,"y":0.051},{"x":15605,"y":0.061},{"x":15745,"y":0.069},{"x":15800,"y":0.087},{"x":15905,"y":0.025},
{"x":16005,"y":0.034},{"x":16125,"y":0.047},{"x":16235,"y":0.067},{"x":16315,"y":0.009},{"x":16440,"y":0.041},{"x":16515,"y":0.045},{"x":16620,"y":0.082},{"x":16705,"y":0.061},{"x":16840,"y":0.023},{"x":16935,"y":0.013},
{"x":17045,"y":0.051},{"x":17115,"y":0.054},{"x":17200,"y":0.042},{"x":17335,"y":0.04},{"x":17400,"y":0.024},{"x":17510,"y":0.062},{"x":17605,"y":0.061},{"x":17725,"y":0.047},{"x":17820,"y":0.082},{"x":17900,"y":0.024},
{"x":18040,"y":0.023},{"x":18145,"y":0.042},{"x":18205,"y":0.034},{"x":18320,"y":0.091},{"x":18445,"y":0.042},{"x":18545,"y":0.069},{"x":18615,"y":0.009},{"x":18720,"y":0.073},{"x":18840,"y":0.032},{"x":18940,"y":0.068},
{"x":19020,"y":0.01},{"x":19105,"y":0.025},{"x":19230,"y":0.048},{"x":19335,"y":0.094},{"x":19425,"y":0.02},{"x":19500,"y":0.042},{"x":19645,"y":0.024},{"x":19710,"y":0.026},{"x":19820,"y":0.073},{"x":19920,"y":0.037},
{"x":20035,"y":0.076},{"x":20130,"y":0.03},{"x":20205,"y":0.043},{"x":20320,"y":0.055},{"x":20430,"y":0.084},{"x":20500,"y":0.069},{"x":20630,"y":0.012},{"x":20730,"y":0.012},{"x":20840,"y":0.068},{"x":20900,"y":0.06},
{"x":21040,"y":0.014},{"x":21110,"y":0.062},{"x":21210,"y":0.035},{"x":21330,"y":0.021},{"x":21420,"y":0.055},{"x":21540,"y":0.059},{"x":21600,"y":0.078},{"x":21700,"y":0.078},{"x":21805,"y":0.016},{"x":21930,"y":0.075},
{"x":22040,"y":0.05},{"x":22120,"y":0.082},{"x":22235,"y":0.085},{"x":22335,"y":0.022},{"x":22420,"y":0.055},{"x":22505,"y":0.025},{"x":22605,"y":0.007},{"x":22740,"y":0.095},{"x":22825,"y":0.029},{"x":22915,"y":0.009},
{"x":23035,"y":0.094},{"x":23120,"y":0.064},{"x":23210,"y":0.026},{"x":23315,"y":0.081},{"x":23420,"y":0.028},{"x":23525,"y":0.092},{"x":23620,"y":0.028},{"x":23720,"y":0.055},{"x":23810,"y":0.044},{"x":23920,"y":0.01},
{"x":24015,"y":0.09},{"x":24135,"y":0.022},{"x":24205,"y":0.07},{"x":24300,"y":0.015},{"x":24435,"y":0.058},{"x":24525,"y":0.038},{"x":24615,"y":0.063},{"x":24745,"y":0.051},{"x":24800,"y":0.033},{"x":24935,"y":0.067},
{"x":25035,"y":0.076},{"x":25135,"y":0.085},{"x":25220,"y":0.091},{"x":25320,"y":0.028},{"x":25445,"y":0.06},{"x":25545,"y":0.096},{"x":25610,"y":0.008},{"x":25700,"y":0.033},{"x":25830,"y":0.066},{"x":25945,"y":0.015},
{"x":26025,"y":0.011},{"x":26125,"y":0.02},{"x":26205,"y":0.016},{"x":26335,"y":0.04},{"x":26400,"y":0.033},{"x":26510,"y":0.008},{"x":26635,"y":0.058},{"x":26730,"y":0.039},{"x":26805,"y":0.007},{"x":26940,"y":0.059},
{"x":27015,"y":0.045},{"x":27140,"y":0.086},{"x":27230,"y":0.084},{"x":27300,"y":0.024},{"x":27430,"y":0.012},{"x":27510,"y":0.044},{"x":27630,"y":0.066},{"x":27705,"y":0.061},{"x":27815,"y":0.054},{"x":27915,"y":0.027},
{"x":28005,"y":0.016},{"x":28115,"y":0.036},{"x":28240,"y":0.086},{"x":28320,"y":0.046},{"x":28425,"y":0.02},{"x":28540,"y":0.05},{"x":28615,"y":0.063},{"x":28700,"y":0.087},{"x":28800,"y":0.051},{"x":28900,"y":0.015},
{"x":29035,"y":0.094},{"x":29125,"y":0.047},{"x":29210,"y":0.017},{"x":29300,"y":0.051},{"x":29420,"y":0.019},{"x":29520,"y":0.019},{"x":29645,"y":0.069},{"x":29715,"y":0.009},{"x":29815,"y":0.09},{"x":29940,"y":0.05},
{"x":30010,"y":0.035},{"x":30130,"y":0.039},{"x":30225,"y":0.011},{"x":30330,"y":0.057},{"x":30400,"y":0.069},{"x":30510,"y":0.026},{"x":30645,"y":0.078},{"x":30735,"y":0.013},{"x":30830,"y":0.039},{"x":30900,"y":0.06},
{"x":31030,"y":0.057},{"x":31135,"y":0.076},{"x":31215,"y":0.054},{"x":31335,"y":0.094},{"x":31405,"y":0.052},{"x":31505,"y":0.088},{"x":31615,"y":0.018},{"x":31710,"y":0.089},{"x":31800,"y":0.051},{"x":31900,"y":0.033},
{"x":32035,"y":0.013},{"x":32100,"y":0.087},{"x":32245,"y":0.033},{"x":32315,"y":0.018},{"x":32410,"y":0.08},{"x":32540,"y":0.068},{"x":32635,"y":0.022},{"x":32700,"y":0.015},{"x":32845,"y":0.078},{"x":32905,"y":0.034},
{"x":33010,"y":0.08},{"x":33135,"y":0.022},{"x":33220,"y":0.091},{"x":33320,"y":0.037},{"x":33415,"y":0.027},{"x":33535,"y":0.067},{"x":33620,"y":0.019},{"x":33735,"y":0.022},{"x":33800,"y":0.069},{"x":33920,"y":0.091},
{"x":34035,"y":0.04},{"x":34110,"y":0.017},{"x":34215,"y":0.009},{"x":34300,"y":0.051},{"x":34430,"y":0.021},{"x":34545,"y":0.024},{"x":34630,"y":0.084},{"x":34745,"y":0.06},{"x":34835,"y":0.049},{"x":34935,"y":0.085},
{"x":35010,"y":0.008},{"x":35100,"y":0.069},{"x":35245,"y":0.051},{"x":35315,"y":0.045},{"x":35405,"y":0.061},{"x":35500,"y":0.024},
{"x":65,"y":0.019},{"x":198,"y":0.056},{"x":301,"y":0.034},{"x":439,"y":0.05},{"x":577,"y":0.052},{"x":660,"y":0.027},{"x":798,"y":0.072},{"x":911,"y":0.014},{"x":1019,"y":0.071},{"x":1147,"y":0.029},
{"x":1280,"y":0.022},{"x":1403,"y":0.009},{"x":1511,"y":0.008},{"x":1639,"y":0.031},{"x":1727,"y":0.006},{"x":1840,"y":0.041},{"x":1963,"y":0.071},{"x":2106,"y":0.073},{"x":2204,"y":0.02},{"x":2332,"y":0.014},
{"x":2430,"y":0.063},{"x":2568,"y":0.014},{"x":2676,"y":0.056},{"x":2789,"y":0.035},{"x":2907,"y":0.013},{"x":3050,"y":0.03},{"x":3143,"y":0.042},{"x":3256,"y":0.07},{"x":3399,"y":0.051},{"x":3527,"y":0.052},
{"x":3625,"y":0.021},{"x":3718,"y":0.069},{"x":3846,"y":0.005},{"x":3994,"y":0.037},{"x":4112,"y":0.03},{"x":4210,"y":0.042},{"x":4313,"y":0.055},{"x":4471,"y":0.023},{"x":4579,"y":0.073},{"x":4667,"y":0.005},
{"x":4810,"y":0.007},{"x":4943,"y":0.031},{"x":5031,"y":0.028},{"x":5179,"y":0.038},{"x":5297,"y":0.023},{"x":5385,"y":0.071},{"x":5523,"y":0.044},{"x":5631,"y":0.021},{"x":5729,"y":0.048},{"x":5842,"y":0.004},
{"x":5985,"y":0.043},{"x":6118,"y":0.073},{"x":6206,"y":0.041},{"x":6314,"y":0.047},{"x":6477,"y":0.031},{"x":6585,"y":0.008},{"x":6688,"y":0.056},{"x":6831,"y":0.031},{"x":6924,"y":0.064},{"x":7042,"y":0.013},
{"x":7165,"y":0.029},{"x":7303,"y":0.023},{"x":7386,"y":0.027},{"x":7509,"y":0.02},{"x":7612,"y":0.062},{"x":7765,"y":0.051},{"x":7888,"y":0.022},{"x":7971,"y":0.055},{"x":8114,"y":0.072},{"x":8222,"y":0.035},
{"x":8320,"y":0.026},{"x":8468,"y":0.036},{"x":8566,"y":0.07},{"x":8714,"y":0.008},{"x":8822,"y":0.057},{"x":8920,"y":0.048},{"x":9028,"y":0.026},{"x":9186,"y":0.022},{"x":9309,"y":0.031},{"x":9427,"y":0.031},
{"x":9540,"y":0.066},{"x":9648,"y":0.021},{"x":9746,"y":0.07},{"x":9894,"y":0.066},{"x":9972,"y":0.062},{"x":10105,"y":0.006},{"x":10228,"y":0.056},{"x":10366,"y":0.044},{"x":10454,"y":0.027},{"x":10587,"y":0.014},
{"x":10695,"y":0.071},{"x":10818,"y":0.042},{"x":10926,"y":0.019},{"x":11039,"y":0.041},{"x":11157,"y":0.012},{"x":11305,"y":0.008},{"x":11388,"y":0.011},{"x":11536,"y":0.072},{"x":11659,"y":0.008},{"x":11787,"y":0.016},
{"x":11900,"y":0.015},{"x":11988,"y":0.041},{"x":12101,"y":0.055},{"x":12234,"y":0.028},{"x":12372,"y":0.066},{"x":12450,"y":0.026},{"x":12608,"y":0.037},{"x":12716,"y":0.014},{"x":12829,"y":0.065},{"x":12927,"y":0.055},
{"x":13055,"y":0.071},{"x":13168,"y":0.027},{"x":13316,"y":0.008},{"x":13404,"y":0.055},{"x":13527,"y":0.006},{"x":13630,"y":0.018},{"x":13778,"y":0.014},{"x":13896,"y":0.043},{"x":14004,"y":0.035},{"x":14137,"y":0.008},
{"x":14220,"y":0.062},{"x":14383,"y":0.074},{"x":14471,"y":0.013},{"x":14614,"y":0.037},{"x":14712,"y":0.071},{"x":14830,"y":0.071},{"x":14958,"y":0.029},{"x":15046,"y":0.033},{"x":15209,"y":0.067},{"x":15307,"y":0.065},
{"x":15425,"y":0.036},{"x":15518,"y":0.011},{"x":15661,"y":0.05},{"x":15794,"y":0.058},{"x":15882,"y":0.041},{"x":16000,"y":0.005},{"x":16123,"y":0.071},{"x":16231,"y":0.019},{"x":16379,"y":0.037},{"x":16472,"y":0.034},
{"x":16605,"y":0.057},{"x":16713,"y":0.049},{"x":16841,"y":0.014},{"x":16979,"y":0.038},{"x":17072,"y":0.049},{"x":17170,"y":0.004},{"x":17328,"y":0.051},{"x":17411,"y":0.048},{"x":17534,"y":0.063},{"x":17682,"y":0.008},
{"x":17780,"y":0.042},{"x":17918,"y":0.066},{"x":18001,"y":0.019},{"x":18119,"y":0.019},{"x":18237,"y":0.048},{"x":18385,"y":0.037},{"x":18488,"y":0.064},{"x":18611,"y":0.007},{"x":18704,"y":0.004},{"x":18832,"y":0.012},
{"x":18980,"y":0.051},{"x":19078,"y":0.035},{"x":19181,"y":0.055},{"x":19294,"y":0.054},{"x":19422,"y":0.034},{"x":19565,"y":0.015},{"x":19648,"y":0.011},{"x":19771,"y":0.063},{"x":19929,"y":0.045},{"x":20017,"y":0.028},
{"x":20160,"y":0.058},{"x":20263,"y":0.036},{"x":20366,"y":0.019},{"x":20479,"y":0.027},{"x":20597,"y":0.034},{"x":20710,"y":0.04},{"x":20853,"y":0.036},{"x":20971,"y":0.036},{"x":21089,"y":0.021},{"x":21227,"y":0.038},
{"x":21330,"y":0.029},{"x":21438,"y":0.056},{"x":21556,"y":0.013},{"x":21684,"y":0.007},{"x":21782,"y":0.055},{"x":21900,"y":0.041},{"x":22053,"y":0.031},{"x":22146,"y":0.071},{"x":22284,"y":0.008},{"x":22407,"y":0.059},
{"x":22505,"y":0.057},{"x":22618,"y":0.056},{"x":22761,"y":0.038},{"x":22849,"y":0.035},{"x":22952,"y":0.069},{"x":23085,"y":0.071},{"x":23228,"y":0.022},{"x":23311,"y":0.005},{"x":23469,"y":0.052},{"x":23572,"y":0.072},
{"x":23680,"y":0.042},{"x":23798,"y":0.042},{"x":23906,"y":0.012},{"x":24054,"y":0.058},{"x":24172,"y":0.008},{"x":24255,"y":0.019},{"x":24368,"y":0.054},{"x":24531,"y":0.052},{"x":24639,"y":0.015},{"x":24747,"y":0.065},
{"x":24870,"y":0.029},{"x":24988,"y":0.065},{"x":25101,"y":0.05},{"x":25239,"y":0.009},{"x":25327,"y":0.049},{"x":25445,"y":0.02},{"x":25568,"y":0.049},{"x":25686,"y":0.013},{"x":25814,"y":0.029},{"x":25907,"y":0.027},
{"x":26030,"y":0.012},{"x":26178,"y":0.03},{"x":26276,"y":0.064},{"x":26409,"y":0.037},{"x":26517,"y":0.043},{"x":26640,"y":0.065},{"x":26748,"y":0.006},{"x":26886,"y":0.008},{"x":26974,"y":0.005},{"x":27097,"y":0.006},
{"x":27215,"y":0.056},{"x":27353,"y":0.044},{"x":27476,"y":0.022},{"x":27584,"y":0.007},{"x":27707,"y":0.058},{"x":27830,"y":0.037},{"x":27923,"y":0.035},{"x":28031,"y":0.07},{"x":28174,"y":0.029},{"x":28287,"y":0.029},
{"x":28390,"y":0.063},{"x":28533,"y":0.022},{"x":28621,"y":0.048},{"x":28744,"y":0.041},{"x":28852,"y":0.047},{"x":28975,"y":0.005},{"x":29133,"y":0.023},{"x":29206,"y":0.069},{"x":29369,"y":0.059},{"x":29447,"y":0.048},
{"x":29580,"y":0.049},{"x":29703,"y":0.057},{"x":29826,"y":0.029},{"x":29934,"y":0.056},{"x":30072,"y":0.015},{"x":30175,"y":0.014},{"x":30298,"y":0.029},{"x":30416,"y":0.021},{"x":30549,"y":0.009},{"x":30632,"y":0.005},
{"x":30755,"y":0.056},{"x":30878,"y":0.006},{"x":31006,"y":0.072},{"x":31094,"y":0.026},{"x":31227,"y":0.02},{"x":31350,"y":0.064},{"x":31488,"y":0.058},{"x":31596,"y":0.007},{"x":31689,"y":0.07},{"x":31802,"y":0.011},
{"x":31940,"y":0.02},{"x":32063,"y":0.057},{"x":32176,"y":0.035},{"x":32289,"y":0.035},{"x":32402,"y":0.027},{"x":32540,"y":0.057},{"x":32658,"y":0.036},{"x":32766,"y":0.056},{"x":32904,"y":0.008},{"x":32992,"y":0.034},
{"x":33105,"y":0.041},{"x":33233,"y":0.042},{"x":33351,"y":0.013},{"x":33499,"y":0.059},{"x":33587,"y":0.006},{"x":33720,"y":0.021},{"x":33808,"y":0.054},{"x":33961,"y":0.051},{"x":34054,"y":0.012},{"x":34192,"y":0.065},
{"x":34280,"y":0.026},{"x":34408,"y":0.063},{"x":34536,"y":0.049},{"x":34679,"y":0.009},{"x":34757,"y":0.048},{"x":34890,"y":0.006},{"x":34993,"y":0.019},{"x":35116,"y":0.07},{"x":35259,"y":0.058},{"x":35357,"y":0.049},
{"x":13680,"y":0.4},{"x":34510,"y":0.41},{"x":4000,"y":0.33},{"x":6180,"y":0.32},{"x":17250,"y":0.31},{"x":21460,"y":0.31},{"x":27750,"y":0.29},{"x":25410,"y":0.26},{"x":28700,"y":0.26},{"x":21970,"y":0.25},
{"x":22830,"y":0.25},{"x":21900,"y":0.23},{"x":22700,"y":0.22},{"x":7320,"y":0.235},{"x":3850,"y":0.22},{"x":4420,"y":0.23},{"x":10590,"y":0.23},{"x":20000,"y":0.24},{"x":19540,"y":0.23},{"x":26320,"y":0.22},
{"x":31990,"y":0.23},{"x":32840,"y":0.22},{"x":33350,"y":0.21},{"x":33990,"y":0.22},{"x":13050,"y":0.21},{"x":21690,"y":0.21},{"x":28900,"y":0.2},{"x":24290,"y":0.2},{"x":25150,"y":0.19},{"x":1320,"y":0.19},
{"x":5700,"y":0.18},{"x":10610,"y":0.18},{"x":11530,"y":0.18},{"x":18980,"y":0.18},{"x":20730,"y":0.18},{"x":21800,"y":0.18},{"x":23080,"y":0.2},{"x":34680,"y":0.17},{"x":33900,"y":0.17},{"x":34400,"y":0.18},
{"x":35250,"y":0.18},{"x":32500,"y":0.18},{"x":33100,"y":0.19},{"x":1090,"y":0.15},{"x":13000,"y":0.15},{"x":12300,"y":0.15},{"x":18580,"y":0.15},{"x":9100,"y":0.15},{"x":25730,"y":0.17},{"x":26730,"y":0.16},
{"x":30740,"y":0.16},{"x":31280,"y":0.16},{"x":20220,"y":0.14},{"x":50,"y":0.12},{"x":50,"y":0.06},{"x":60,"y":0.03},
{"x":600,"y":0.11},{"x":1800,"y":0.13},{"x":2500,"y":0.12},{"x":3200,"y":0.14},{"x":4800,"y":0.11},{"x":5400,"y":0.14},{"x":6500,"y":0.12},{"x":7000,"y":0.13},{"x":7800,"y":0.11},{"x":8400,"y":0.14},
{"x":9700,"y":0.12},{"x":10300,"y":0.11},{"x":11000,"y":0.13},{"x":11800,"y":0.14},{"x":12700,"y":0.12},{"x":13400,"y":0.11},{"x":14100,"y":0.13},{"x":14900,"y":0.12},{"x":15500,"y":0.11},{"x":16200,"y":0.14},
{"x":16800,"y":0.12},{"x":17600,"y":0.13},{"x":18300,"y":0.11},{"x":19200,"y":0.12},{"x":19900,"y":0.13},{"x":20600,"y":0.11},{"x":21200,"y":0.12},{"x":22100,"y":0.14},{"x":23000,"y":0.12},{"x":23700,"y":0.13},
{"x":24500,"y":0.11},{"x":25000,"y":0.14},{"x":26100,"y":0.12},{"x":26900,"y":0.13},{"x":27600,"y":0.11},{"x":28300,"y":0.14},{"x":29100,"y":0.12},{"x":29800,"y":0.11},{"x":30400,"y":0.13},{"x":31000,"y":0.12},
{"x":31700,"y":0.14},{"x":32300,"y":0.11},{"x":33000,"y":0.13},{"x":33700,"y":0.12},{"x":34300,"y":0.11},{"x":35000,"y":0.13},{"x":35500,"y":0.15},{"x":2900,"y":0.105},{"x":8900,"y":0.105},{"x":15900,"y":0.105},
{"x":24000,"y":0.105},{"x":30200,"y":0.105}
],
"aavg": [{"y":0.056}],
"aavgpts": [{"x":11150,"y":0.056},{"x":22280,"y":0.056},{"x":33400,"y":0.056}],
"bavg": [{"y":0.359}],
"bavgpts": [{"x":11100,"y":0.359},{"x":22320,"y":0.359},{"x":33560,"y":0.359}]
},
"hconcat": [
{
  "width": 422, "height": 323,
  "title": {"text": "(a) CFCA", "orient": "bottom", "anchor": "middle", "frame": "group", "font": "Liberation Serif", "fontSize": 23, "fontWeight": "normal", "color": "black", "baseline": "top", "offset": 38, "dx": -9},
  "layer": [
    {"data": {"name": "a1"},
     "mark": {"type": "point", "filled": false, "size": 80, "strokeWidth": 2, "opacity": 1},
     "encoding": {
       "x": {"field": "x", "type": "quantitative", "title": "Number of packets/100K", "scale": {"domain": [0, 36220], "nice": false, "zero": false}, "axis": {"values": [10000, 20000, 30000], "format": "d", "labelPadding": 1, "titlePadding": -1}},
       "y": {"field": "y", "type": "quantitative", "title": "Cache-miss ratio (%)", "scale": {"domain": [0, 1], "nice": false}, "axis": {"values": [0, 0.2, 0.4, 0.6, 0.8, 1], "format": "~g", "labelPadding": 8, "titlePadding": 5}},
       "color": {"datum": "Level-1 Cache", "type": "nominal", "scale": {"domain": ["Level-1 Cache", "Level-2 Cache", "Level-1 Cache (Avg)"], "range": ["#9400D3", "#009E73", "#FF0000"]},
         "legend": {"orient": "none", "legendX": 343, "legendY": 6, "title": null, "labelFont": "Liberation Sans", "labelFontSize": 30, "labelColor": "black", "labelAlign": "right", "labelOffset": -68, "labelLimit": 0, "symbolSize": 80, "symbolStrokeWidth": 2, "symbolFillColor": "transparent", "rowPadding": 0.6, "padding": 0, "encode": {"symbols": {"update": {"fill": {"value": "transparent"}, "strokeWidth": {"value": 2}}}}}},
       "shape": {"datum": "Level-1 Cache", "type": "nominal", "scale": {"domain": ["Level-1 Cache", "Level-2 Cache", "Level-1 Cache (Avg)"], "range": ["M-1,-1L1,1M-1,1L1,-1", "M0.88,0A0.88,0.88 0 1,1 -0.88,0A0.88,0.88 0 1,1 0.88,0Z", "M-8.5,0L8.5,0M-0.4,-0.4L0.4,-0.4L0.4,0.4L-0.4,0.4Z"]},
         "legend": {"orient": "none", "legendX": 343, "legendY": 6, "title": null, "labelFont": "Liberation Sans", "labelFontSize": 30, "labelColor": "black", "labelAlign": "right", "labelOffset": -68, "labelLimit": 0, "symbolSize": 80, "symbolStrokeWidth": 2, "symbolFillColor": "transparent", "rowPadding": 0.6, "padding": 0, "encode": {"symbols": {"update": {"fill": {"value": "transparent"}, "strokeWidth": {"value": 2}}}}}}
     }},
    {"data": {"name": "a2"},
     "mark": {"type": "point", "filled": false, "size": 80, "strokeWidth": 1.9, "opacity": 1},
     "encoding": {
       "x": {"field": "x", "type": "quantitative"},
       "y": {"field": "y", "type": "quantitative"},
       "color": {"datum": "Level-2 Cache", "type": "nominal"},
       "shape": {"datum": "Level-2 Cache", "type": "nominal"}
     }},
    {"data": {"name": "aavg"},
     "mark": {"type": "rule", "strokeWidth": 2},
     "encoding": {"y": {"field": "y", "type": "quantitative"}, "color": {"datum": "Level-1 Cache (Avg)", "type": "nominal"}}},
    {"data": {"name": "aavgpts"},
     "mark": {"type": "point", "shape": "square", "filled": true, "size": 30, "opacity": 1, "color": "#FF0000"},
     "encoding": {"x": {"field": "x", "type": "quantitative"}, "y": {"field": "y", "type": "quantitative"}}},
    {"data": {"values": [{}]}, "mark": {"type": "rule", "color": "black", "strokeWidth": 3.5, "strokeCap": "square"}, "encoding": {"y": {"datum": 0}}},
    {"data": {"values": [{}]}, "mark": {"type": "rule", "color": "black", "strokeWidth": 3.5, "strokeCap": "square"}, "encoding": {"y": {"datum": 1}}},
    {"data": {"values": [{}]}, "mark": {"type": "rule", "color": "black", "strokeWidth": 3.5, "strokeCap": "square"}, "encoding": {"x": {"datum": 0}}},
    {"data": {"values": [{}]}, "mark": {"type": "rule", "color": "black", "strokeWidth": 3.5, "strokeCap": "square"}, "encoding": {"x": {"datum": 36220}}}
  ]
},
{
  "width": 432, "height": 323,
  "title": {"text": "(b) PFCA", "orient": "bottom", "anchor": "middle", "frame": "group", "font": "Liberation Serif", "fontSize": 23, "fontWeight": "normal", "color": "black", "baseline": "top", "offset": 38, "dx": -15},
  "layer": [
    {"data": {"name": "b1"},
     "mark": {"type": "point", "filled": false, "size": 80, "strokeWidth": 2, "opacity": 1},
     "encoding": {
       "x": {"field": "x", "type": "quantitative", "title": "Number of packets/100K", "scale": {"domain": [0, 37080], "nice": false, "zero": false}, "axis": {"values": [10000, 20000, 30000], "format": "d", "labelPadding": 1, "titlePadding": -1}},
       "y": {"field": "y", "type": "quantitative", "title": "Cache-miss ratio (%)", "scale": {"domain": [0, 1], "nice": false}, "axis": {"values": [0, 0.2, 0.4, 0.6, 0.8, 1], "format": "~g", "labelPadding": 8, "titlePadding": 5}},
       "color": {"datum": "Level-1 Cache", "type": "nominal", "scale": {"domain": ["Level-1 Cache", "Level-2 Cache", "Level-1 Cache (Avg)"], "range": ["#9400D3", "#009E73", "#FF0000"]}, "legend": null},
       "shape": {"datum": "Level-1 Cache", "type": "nominal", "scale": {"domain": ["Level-1 Cache", "Level-2 Cache", "Level-1 Cache (Avg)"], "range": ["M-1,-1L1,1M-1,1L1,-1", "M0.88,0A0.88,0.88 0 1,1 -0.88,0A0.88,0.88 0 1,1 0.88,0Z", "M-8.5,0L8.5,0M-0.4,-0.4L0.4,-0.4L0.4,0.4L-0.4,0.4Z"]}, "legend": null}
     }},
    {"data": {"name": "b2"},
     "mark": {"type": "point", "filled": false, "size": 80, "strokeWidth": 1.9, "opacity": 1},
     "encoding": {
       "x": {"field": "x", "type": "quantitative"},
       "y": {"field": "y", "type": "quantitative"},
       "color": {"datum": "Level-2 Cache", "type": "nominal", "legend": null},
       "shape": {"datum": "Level-2 Cache", "type": "nominal", "legend": null}
     }},
    {"data": {"name": "bavg"},
     "mark": {"type": "rule", "strokeWidth": 2},
     "encoding": {"y": {"field": "y", "type": "quantitative"}, "color": {"datum": "Level-1 Cache (Avg)", "type": "nominal", "legend": null}}},
    {"data": {"name": "bavgpts"},
     "mark": {"type": "point", "shape": "square", "filled": true, "size": 30, "opacity": 1, "color": "#FF0000"},
     "encoding": {"x": {"field": "x", "type": "quantitative"}, "y": {"field": "y", "type": "quantitative"}}},
    {"data": {"values": [{}]}, "mark": {"type": "rule", "color": "black", "strokeWidth": 3.5, "strokeCap": "butt"}, "encoding": {"y": {"datum": 0}}},
    {"data": {"values": [{}]}, "mark": {"type": "rule", "color": "black", "strokeWidth": 3.5, "strokeCap": "butt"}, "encoding": {"y": {"datum": 1}}},
    {"data": {"values": [{}]}, "mark": {"type": "rule", "color": "black", "strokeWidth": 3.5, "strokeCap": "square"}, "encoding": {"x": {"datum": 0}}}
  ]
}
],
"spacing": 71,
"resolve": {"scale": {"x": "independent", "y": "independent", "color": "independent", "shape": "independent"}, "legend": {"color": "independent", "shape": "independent"}}
}
